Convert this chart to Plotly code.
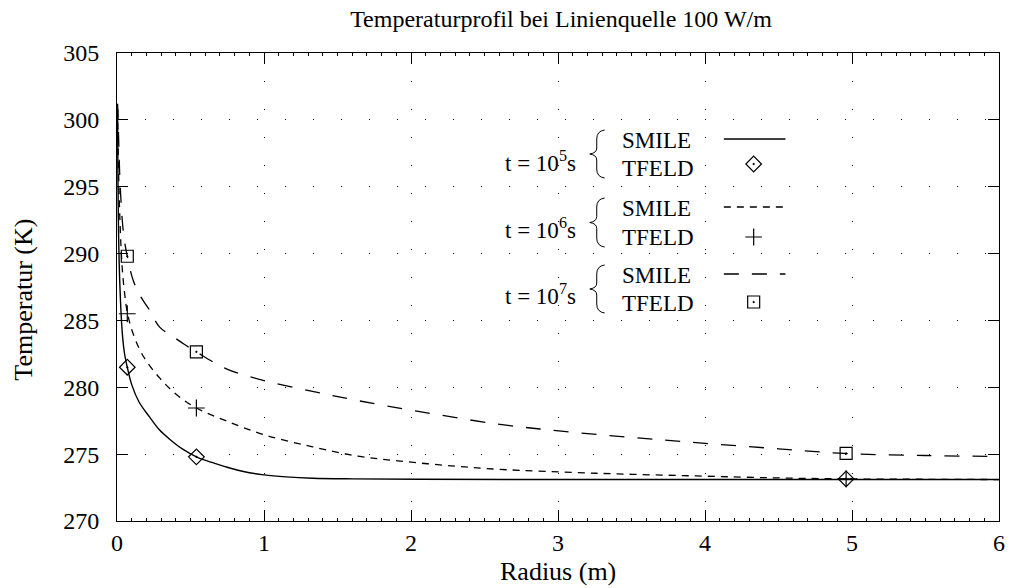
import plotly.graph_objects as go

# ---------------- data ----------------
r_smile_1e5 = [0.004, 0.01, 0.02, 0.035, 0.05, 0.07, 0.1, 0.15, 0.22, 0.29, 0.36, 0.45, 0.54,
               0.64, 0.74, 0.86, 1.0, 1.15, 1.33, 1.6, 2.05, 3.0, 4.0, 5.0, 6.0]
T_smile_1e5 = [300.8, 292.0, 287.5, 284.2, 282.6, 281.5, 280.2, 278.9, 277.8, 276.8, 276.1, 275.35, 274.8,
               274.4, 274.05, 273.7, 273.45, 273.3, 273.2, 273.15, 273.12, 273.1, 273.1, 273.1, 273.1]

r_smile_1e6 = [0.004, 0.01, 0.02, 0.035, 0.05, 0.07, 0.11, 0.18, 0.29, 0.4, 0.54, 0.74, 1.0, 1.33,
               1.64, 1.91, 2.3, 2.59, 3.26, 3.94, 4.5, 4.95, 5.5, 6.0]
T_smile_1e6 = [300.8, 296.5, 292.5, 289.0, 287.2, 285.6, 284.0, 282.3, 280.7, 279.5, 278.45, 277.5, 276.45, 275.55,
               274.85, 274.5, 274.1, 273.87, 273.57, 273.37, 273.22, 273.15, 273.12, 273.1]

r_smile_1e7 = [0.004, 0.01, 0.02, 0.035, 0.05, 0.07, 0.11, 0.16, 0.22, 0.29, 0.38, 0.46, 0.54, 0.74,
               1.0, 1.33, 1.64, 2.05, 2.59, 3.04, 3.5, 3.94, 4.5, 4.95, 5.5, 6.0]
T_smile_1e7 = [301.2, 299.0, 295.5, 292.6, 291.0, 289.8, 288.0, 286.8, 285.8, 284.5, 283.8, 283.2, 282.65, 281.4,
               280.5, 279.7, 279.0, 278.2, 277.25, 276.7, 276.25, 275.86, 275.4, 275.05, 274.9, 274.82]

r_tfeld = [0.07, 0.54, 4.96]
T_tfeld_1e5 = [281.5, 274.8, 273.15]
T_tfeld_1e6 = [285.5, 278.45, 273.15]
T_tfeld_1e7 = [289.8, 282.65, 275.05]

x_ticks = [0, 1, 2, 3, 4, 5, 6]
y_ticks = [270, 275, 280, 285, 290, 295, 300, 305]

title_text = "Temperaturprofil bei Linienquelle 100 W/m"
x_title = "Radius (m)"
y_title = "Temperatur (K)"
group_labels = ["t = 10<sup>5</sup>s", "t = 10<sup>6</sup>s", "t = 10<sup>7</sup>s"]

# ---------------- layout helpers ----------------
W, H = 1011, 588
L, R, T, B = 117, 1005, 53, 521
PW, PH = R - L, B - T


def px(xp):
    return (xp - L) / PW


def py(yp):
    return (B - yp) / PH


FONT = "Liberation Serif"
FS_TICK = 24
FS_AX = 26
FS_TITLE = 24
FS_KEY = 23
BLACK = "#000000"

styles = [
    dict(dash="solid", width=1.4, symbol="diamond-open-dot"),
    dict(dash="7px,6px", width=1.3, symbol="cross-thin-open"),
    dict(dash="15px,13px", width=1.3, symbol="square-open-dot"),
]
curves = [(r_smile_1e5, T_smile_1e5), (r_smile_1e6, T_smile_1e6), (r_smile_1e7, T_smile_1e7)]
tfelds = [T_tfeld_1e5, T_tfeld_1e6, T_tfeld_1e7]

fig = go.Figure()

for (rr, tt), st in zip(curves, styles):
    fig.add_trace(go.Scatter(x=rr, y=tt, mode="lines", line=dict(color=BLACK, width=st["width"], dash=st["dash"]),
                             line_shape="spline", showlegend=False, hoverinfo="skip"))
for tt, st in zip(tfelds, styles):
    fig.add_trace(go.Scatter(x=r_tfeld, y=tt, mode="markers",
                             marker=dict(symbol=st["symbol"], size=12, color=BLACK, line=dict(color=BLACK, width=1.2)),
                             showlegend=False, hoverinfo="skip"))

# ---------------- custom key ----------------
smile_y = [140, 208, 275]
tfeld_y = [168, 237, 303]
line_y = [139, 207, 274]
mark_y = [164, 237, 302]
group_y = [165, 232, 298]
annotations = []
shapes = []
for i, st in enumerate(styles):
    fig.add_trace(go.Scatter(x=[px(728), px(790)], y=[py(line_y[i])] * 2, xaxis="x2", yaxis="y2", mode="lines",
                             line=dict(color=BLACK, width=st["width"], dash=st["dash"]), showlegend=False,
                             hoverinfo="skip"))
    fig.add_trace(go.Scatter(x=[px(758)], y=[py(mark_y[i])], xaxis="x2", yaxis="y2", mode="markers",
                             marker=dict(symbol=st["symbol"], size=12, color=BLACK, line=dict(color=BLACK, width=1.2)),
                             showlegend=False, hoverinfo="skip"))
    annotations.append(dict(text="SMILE", x=px(623), y=py(smile_y[i]), xref="paper", yref="paper",
                            xanchor="left", yanchor="middle", showarrow=False,
                            font=dict(family=FONT, size=FS_KEY, color=BLACK)))
    annotations.append(dict(text="TFELD", x=px(623), y=py(tfeld_y[i]), xref="paper", yref="paper",
                            xanchor="left", yanchor="middle", showarrow=False,
                            font=dict(family=FONT, size=FS_KEY, color=BLACK)))
    annotations.append(dict(text=group_labels[i], x=px(581), y=py(group_y[i] - 4), xref="paper", yref="paper",
                            xanchor="right", yanchor="middle", showarrow=False,
                            font=dict(family=FONT, size=FS_KEY, color=BLACK)))
    top = smile_y[i] - 10
    bot = tfeld_y[i] + 10
    mid = (top + bot) / 2
    pts = [(608, top), (600, top + 1), (600, top + 9), (600, mid - 6), (600, mid - 1), (593, mid),
           (600, mid + 1), (600, mid + 6), (600, bot - 9), (600, bot - 1), (608, bot)]
    P = [(px(a), py(b)) for a, b in pts]
    path = (f"M {P[0][0]},{P[0][1]} Q {P[1][0]},{P[1][1]} {P[2][0]},{P[2][1]} L {P[3][0]},{P[3][1]} "
            f"Q {P[4][0]},{P[4][1]} {P[5][0]},{P[5][1]} Q {P[6][0]},{P[6][1]} {P[7][0]},{P[7][1]} "
            f"L {P[8][0]},{P[8][1]} Q {P[9][0]},{P[9][1]} {P[10][0]},{P[10][1]}")
    shapes.append(dict(type="path", path=path, xref="paper", yref="paper", line=dict(color=BLACK, width=1)))

annotations.append(dict(text=x_title, x=0.5, y=py(588), xref="paper", yref="paper", xanchor="center",
                        yanchor="bottom", showarrow=False, font=dict(family=FONT, size=FS_AX, color=BLACK)))
annotations.append(dict(text=y_title, x=px(22), y=py(300), xref="paper", yref="paper", xanchor="center",
                        yanchor="middle", textangle=-90, showarrow=False,
                        font=dict(family=FONT, size=FS_AX, color=BLACK)))

axis_common = dict(
    showline=True, linecolor=BLACK, linewidth=1, mirror="ticks",
    ticks="inside", ticklen=11, tickwidth=1, tickcolor=BLACK,
    showgrid=True, gridcolor=BLACK, gridwidth=1, griddash="1px,27px",
    zeroline=False, tickfont=dict(family=FONT, size=FS_TICK, color=BLACK),
)

fig.update_layout(
    width=W, height=H,
    margin=dict(l=L, r=W - R, t=T, b=H - B),
    paper_bgcolor="white", plot_bgcolor="white",
    title=dict(text=title_text, x=(L + R) / 2 / W, xanchor="center", y=1 - 19 / H, yanchor="middle",
               xref="container", yref="container", font=dict(family=FONT, size=FS_TITLE, color=BLACK)),
    xaxis=dict(range=[0, 6], tickvals=x_ticks, ticktext=[str(v) for v in x_ticks], ticklabelstandoff=0,
               minor=dict(ticks="inside", dtick=0.1, ticklen=3, tickcolor=BLACK, showgrid=False), **axis_common),
    yaxis=dict(range=[270, 305], tickvals=y_ticks, ticktext=[str(v) for v in y_ticks], ticklabelstandoff=12,
               **axis_common),
    xaxis2=dict(overlaying="x", range=[0, 1], visible=False, anchor="y2"),
    yaxis2=dict(overlaying="y", range=[0, 1], visible=False, anchor="x2"),
    annotations=annotations, shapes=shapes, showlegend=False,
    font=dict(family=FONT, color=BLACK),
)

fig.write_html("out.html")
